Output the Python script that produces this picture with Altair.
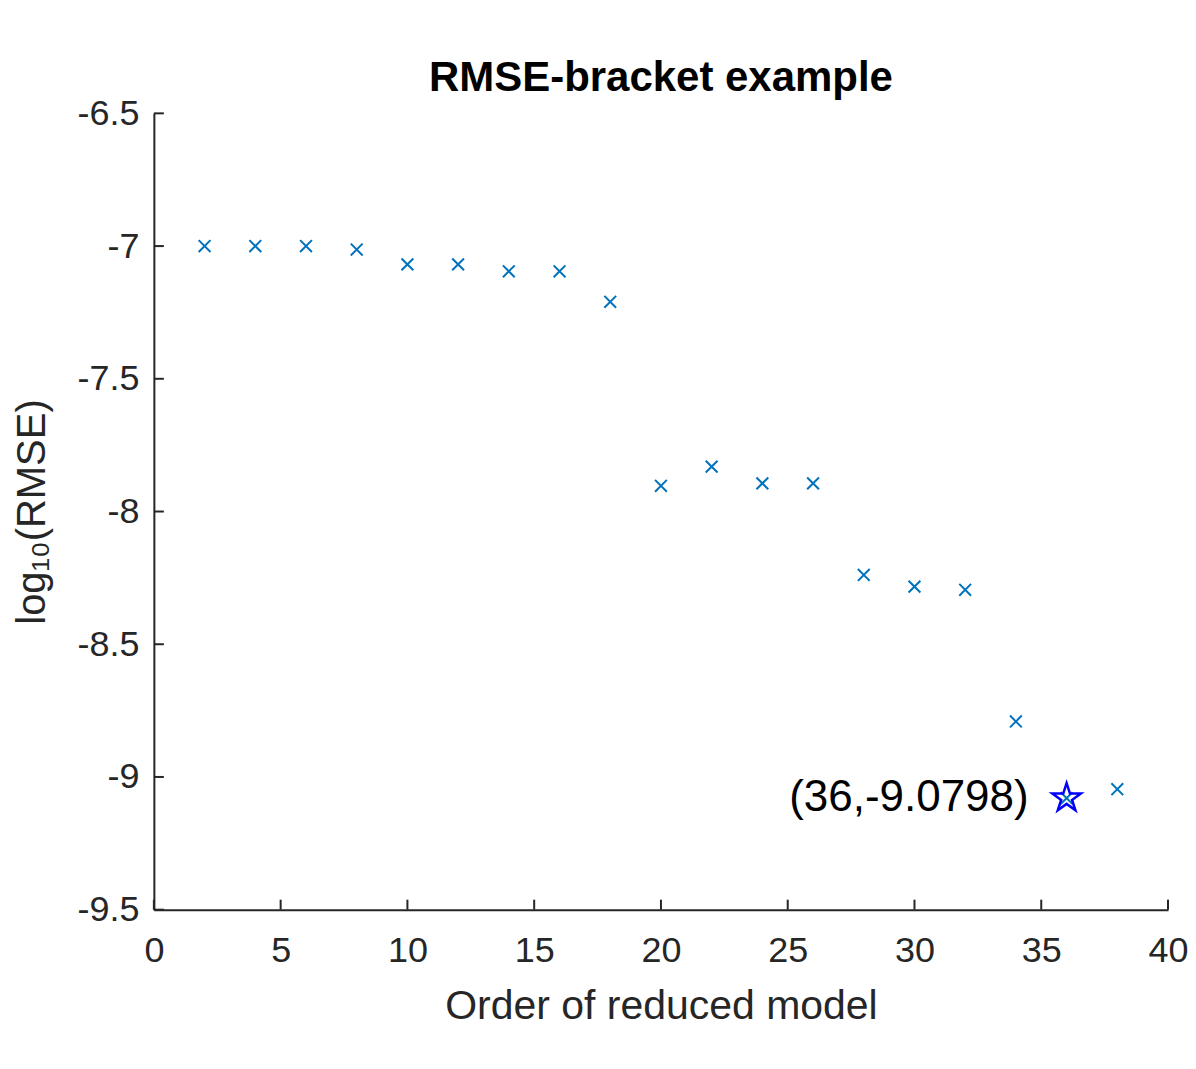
import altair as alt
import pandas as pd

# Data
orders = [2, 4, 6, 8, 10, 12, 14, 16, 18, 20, 22, 24, 26, 28, 30, 32, 34, 36, 38]
log_rmse = [-7.0, -7.0, -7.0, -7.013, -7.069, -7.069, -7.095, -7.095, -7.21,
            -7.903, -7.831, -7.894, -7.894, -8.239, -8.283, -8.295, -8.791,
            -9.0798, -9.046]
best_order = [36]
best_value = [-9.0798]
best_label = ["(36,-9.0798)"]
x_ticks = [0, 5, 10, 15, 20, 25, 30, 35, 40]
y_ticks = [-9.5, -9, -8.5, -8, -7.5, -7, -6.5]

W, H = 1015, 797
FONT = "Liberation Sans"
AX = "#262626"

df = pd.DataFrame({"order": orders, "val": log_rmse})
best = pd.DataFrame({"order": best_order, "val": best_value, "label": best_label})
xt = pd.DataFrame({"t": x_ticks})
yt = pd.DataFrame({"t": y_ticks})

xscale = alt.Scale(domain=[0, 40], nice=False, zero=False)
yscale = alt.Scale(domain=[-9.5, -6.5], nice=False, zero=False)

xaxis = alt.Axis(values=x_ticks, ticks=False, tickSize=0, grid=False, labelFont=FONT,
                 labelFontSize=36, labelColor=AX, labelPadding=24, domainColor=AX,
                 domainWidth=2, title="Order of reduced model", titleFont=FONT,
                 titleFontSize=41, titleFontWeight="normal", titleColor=AX,
                 titlePadding=18, labelFlush=False, labelExpr="datum.value + ''")
yaxis = alt.Axis(values=y_ticks, ticks=False, tickSize=0, grid=False, labelFont=FONT,
                 labelFontSize=36, labelColor=AX, labelPadding=15, domainColor=AX,
                 domainWidth=2, title="log\u2081\u2080(RMSE)", titleFont=FONT,
                 titleFontSize=40, titleFontWeight="normal", titleColor=AX,
                 titlePadding=24, labelFlush=False, labelExpr="datum.value + ''")

cross_path = "M-1,-1L1,1M-1,1L1,-1"
star_path = ("M0,-1L0.2245,-0.309L0.951,-0.309L0.363,0.118L0.588,0.809L0,0.382"
             "L-0.588,0.809L-0.363,0.118L-0.951,-0.309L-0.2245,-0.309Z")

points = alt.Chart(df).mark_point(
    shape=cross_path, size=140, stroke="#0072BD", strokeWidth=2, filled=False, opacity=1
).encode(
    x=alt.X("order:Q", scale=xscale, axis=xaxis),
    y=alt.Y("val:Q", scale=yscale, axis=yaxis),
)

star = alt.Chart(best).mark_point(
    shape=star_path, size=900, stroke="#0000FF", strokeWidth=2.5, filled=False, opacity=1
).encode(
    x=alt.X("order:Q", scale=xscale),
    y=alt.Y("val:Q", scale=yscale),
)

label = alt.Chart(best).mark_text(
    align="right", baseline="middle", dx=-38, dy=0, font=FONT, fontSize=44, color="#000000"
).encode(
    x=alt.X("order:Q", scale=xscale),
    y=alt.Y("val:Q", scale=yscale),
    text="label:N",
)

xtick_rules = alt.Chart(xt).mark_rule(color=AX, strokeWidth=2).encode(
    x=alt.X("t:Q", scale=xscale),
    y=alt.value(H),
    y2=alt.value(H - 10),
)
ytick_rules = alt.Chart(yt).mark_rule(color=AX, strokeWidth=2).encode(
    y=alt.Y("t:Q", scale=yscale),
    x=alt.value(0),
    x2=alt.value(10),
)

chart = alt.layer(xtick_rules, ytick_rules, points, star, label).properties(
    width=W,
    height=H,
    title=alt.TitleParams("RMSE-bracket example", font=FONT, fontSize=42,
                          fontWeight="bold", color="#000000", anchor="middle",
                          offset=-5),
    autosize=alt.AutoSizeParams(type="none"),
    padding={"left": 146, "top": 105, "right": 20, "bottom": 150},
    background="white",
).configure_view(stroke=None, strokeWidth=0)

chart.save("out.html", embed_options={"renderer": "svg", "actions": False})
